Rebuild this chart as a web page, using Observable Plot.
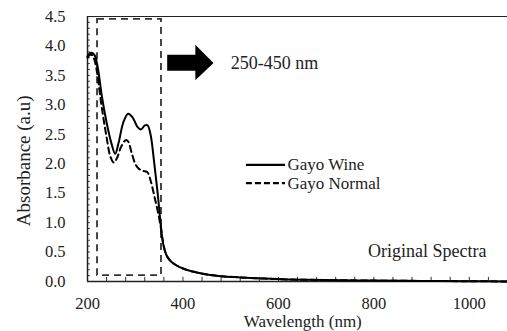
<!DOCTYPE html>
<html>
<head>
<meta charset="utf-8">
<script src="https://cdn.jsdelivr.net/npm/d3@7"></script>
<script src="https://cdn.jsdelivr.net/npm/@observablehq/plot@0.6"></script>
<style>
  html, body { margin: 0; padding: 0; background: #fff; }
  svg { display: block; }
  svg, svg text { font-family: "Liberation Serif", "Times New Roman", serif !important; }
</style>
</head>
<body>
<div id="chart"></div>
<script>
// Wavelength (nm) and absorbance (a.u)
const wineWavelength = [200,205,210,215,220,225,230,240,250,258,265,275,285,295,305,312,320,326,332,340,347,353,358,363,368,375,385,400,420,450,480,520,570,620,700,800,900,1000,1080];
const wineAbsorbance = [3.82,3.88,3.88,3.84,3.70,3.45,3.15,2.70,2.35,2.17,2.35,2.70,2.85,2.78,2.62,2.58,2.65,2.65,2.50,2.00,1.50,1.00,0.66,0.50,0.41,0.34,0.28,0.22,0.17,0.12,0.09,0.07,0.05,0.035,0.025,0.015,0.01,0.005,0.0];
const normalWavelength = [200,205,210,215,220,225,230,240,248,255,262,270,280,285,292,300,307,315,325,332,340,347,353,358,363,368,375,385,400,420,450,480,520,570,620,700,800,900,1000,1080];
const normalAbsorbance = [3.80,3.85,3.84,3.75,3.55,3.25,2.95,2.45,2.12,2.02,2.10,2.28,2.40,2.38,2.20,2.00,1.92,1.88,1.86,1.72,1.45,1.20,0.95,0.68,0.50,0.41,0.34,0.28,0.22,0.17,0.12,0.09,0.07,0.05,0.035,0.025,0.015,0.01,0.005,0.0];
const seriesNames = ["Gayo Wine", "Gayo Normal"];
const xTickValues = [200, 400, 600, 800, 1000];
const yTickValues = [0, 0.5, 1, 1.5, 2, 2.5, 3, 3.5, 4, 4.5];
const xMinorTicks = d3.range(200, 1081, 40);
const yMinorTicks = d3.range(0, 46).map(i => i / 10);
const regionLabel = "250-450 nm";
const spectraLabel = "Original Spectra";
const xTitle = "Wavelength (nm)";
const yTitle = "Absorbance (a.u)";
// highlighted region (wavelength, absorbance)
const regionBox = [{x1: 221, x2: 355, y1: 0.1, y2: 4.45}];
// block arrow outline (wavelength, lower, upper absorbance)
const arrowX  = [368, 427, 427, 465];
const arrowY1 = [3.57, 3.57, 3.41, 3.70];
const arrowY2 = [3.84, 3.84, 4.01, 3.70];

const wine = wineWavelength.map((x, i) => ({x, y: wineAbsorbance[i]}));
const normal = normalWavelength.map((x, i) => ({x, y: normalAbsorbance[i]}));
const arrow = arrowX.map((x, i) => ({x, y1: arrowY1[i], y2: arrowY2[i]}));

const font = "Liberation Serif, Times New Roman, serif";

const chart = Plot.plot({
  width: 507,
  height: 331,
  marginLeft: 87,
  marginRight: 0,
  marginTop: 16,
  marginBottom: 50,
  style: {fontFamily: font, fontSize: "16px", color: "#222", background: "#fff"},
  x: {domain: [200, 1080]},
  y: {domain: [0, 4.5]},
  marks: [
    Plot.axisX({ticks: xTickValues, tickSize: 0, tickPadding: 16, tickFormat: d3.format("d"), label: null, fontSize: 16.5, fontFamily: font}),
    Plot.axisY({ticks: yTickValues, tickSize: 0, tickPadding: 22, tickFormat: d => d.toFixed(1), label: null, fontSize: 16.5, fontFamily: font}),
    Plot.ruleX(xMinorTicks, {y1: 0, y2: 0.07, stroke: "#333", strokeWidth: 1}),
    Plot.ruleY(yMinorTicks, {x1: 200, x2: 206, stroke: "#333", strokeWidth: 1}),
    Plot.ruleY([0], {stroke: "#222", strokeWidth: 1.5}),
    Plot.ruleY([4.5], {stroke: "#222", strokeWidth: 1.2}),
    Plot.ruleX([200], {stroke: "#222", strokeWidth: 1.5}),
    Plot.rect(regionBox, {x1: "x1", x2: "x2", y1: "y1", y2: "y2", fill: "none", stroke: "#333", strokeWidth: 1.8, strokeDasharray: "7,5"}),
    Plot.areaY(arrow, {x: "x", y1: "y1", y2: "y2", fill: "#000"}),
    Plot.text([regionLabel], {x: 500, y: 3.7, text: d => d, textAnchor: "start", fontSize: 18, fill: "#222", fontFamily: font}),
    Plot.line(normal, {x: "x", y: "y", stroke: "#000", strokeWidth: 2, strokeDasharray: "6,4", curve: "catmull-rom"}),
    Plot.line(wine, {x: "x", y: "y", stroke: "#000", strokeWidth: 2, curve: "catmull-rom"}),
    // legend
    Plot.ruleY([1.98], {x1: 533, x2: 615, stroke: "#000", strokeWidth: 2.2}),
    Plot.ruleY([1.67], {x1: 533, x2: 615, stroke: "#000", strokeWidth: 2.2, strokeDasharray: "6,3"}),
    Plot.text([seriesNames[0]], {x: 619, y: 1.98, text: d => d, textAnchor: "start", fontSize: 17, fill: "#222", fontFamily: font}),
    Plot.text([seriesNames[1]], {x: 619, y: 1.67, text: d => d, textAnchor: "start", fontSize: 17, fill: "#222", fontFamily: font}),
    Plot.text([spectraLabel], {x: 1036, y: 0.51, text: d => d, textAnchor: "end", fontSize: 18, fill: "#222", fontFamily: font}),
    // axis titles
    Plot.text([xTitle], {x: 651, y: 0, dy: 40, text: d => d, fontSize: 17, fill: "#222", lineAnchor: "middle", fontFamily: font}),
    Plot.text([yTitle], {x: 200, y: 2.05, dx: -64, rotate: -90, text: d => d, fontSize: 19, fill: "#222", fontFamily: font})
  ]
});
document.getElementById("chart").appendChild(chart);
</script>
</body>
</html>
